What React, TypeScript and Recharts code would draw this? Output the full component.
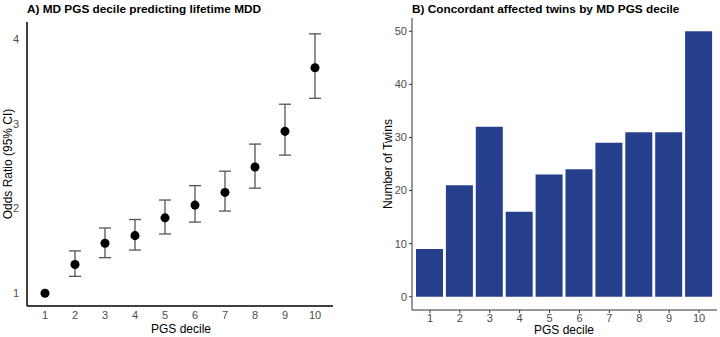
import React from "react";
import {
  ScatterChart,
  Scatter,
  ErrorBar,
  ZAxis,
  BarChart,
  Bar,
  XAxis,
  YAxis,
} from "recharts";

const deciles = [1, 2, 3, 4, 5, 6, 7, 8, 9, 10];
const oddsRatio = [1.0, 1.34, 1.59, 1.68, 1.89, 2.04, 2.19, 2.49, 2.91, 3.66];
const ciLower = [1.0, 1.2, 1.42, 1.51, 1.7, 1.84, 1.97, 2.24, 2.63, 3.3];
const ciUpper = [1.0, 1.5, 1.77, 1.87, 2.1, 2.27, 2.44, 2.76, 3.23, 4.06];
const twinCounts = [9, 21, 32, 16, 23, 24, 29, 31, 31, 50];

const orTicks = [1, 2, 3, 4];
const countTicks = [0, 10, 20, 30, 40, 50];

const font = "'Liberation Sans', Arial, sans-serif";

// reference decile has no interval
const orData = deciles.map((d, i) => ({
  decile: d,
  or: oddsRatio[i],
  err:
    ciUpper[i] > ciLower[i]
      ? [oddsRatio[i] - ciLower[i], ciUpper[i] - oddsRatio[i]]
      : null,
}));

const twinData = deciles.map((d, i) => ({ decile: d, n: twinCounts[i] }));

const tickStyle = { fontSize: 11, fill: "#4d4d4d", fontFamily: font };

function Title({ left, text }: { left: number; text: string }) {
  return (
    <div
      style={{
        position: "absolute",
        left,
        top: 2,
        fontFamily: font,
        fontWeight: 700,
        fontSize: 11.8,
        color: "#000",
        whiteSpace: "nowrap",
      }}
    >
      {text}
    </div>
  );
}

function AxisTitle({
  x,
  y,
  text,
  vertical,
}: {
  x: number;
  y: number;
  text: string;
  vertical?: boolean;
}) {
  return (
    <div
      style={{
        position: "absolute",
        left: x,
        top: y,
        transform: `translate(-50%, -50%)${vertical ? " rotate(-90deg)" : ""}`,
        fontFamily: font,
        fontSize: 12,
        color: "#000",
        whiteSpace: "nowrap",
        lineHeight: "14px",
      }}
    >
      {text}
    </div>
  );
}

export default function App() {
  return (
    <div
      style={{
        position: "absolute",
        left: 0,
        top: 0,
        width: 720,
        height: 337,
        background: "#fff",
        fontFamily: font,
      }}
    >
      <div style={{ position: "absolute", left: 0, top: 0 }}>
        <ScatterChart
          width={360}
          height={337}
          margin={{ top: 22, right: 27, left: 7, bottom: 0 }}
        >
          <XAxis
            type="number"
            dataKey="decile"
            domain={[0.4, 10.6]}
            ticks={deciles}
            interval={0}
            tick={tickStyle}
            tickLine={false}
            tickSize={4}
            tickMargin={1.5}
            axisLine={{ stroke: "#000", strokeWidth: 1.5 }}
            height={31}
          />
          <YAxis
            type="number"
            dataKey="or"
            domain={[0.85, 4.2]}
            ticks={orTicks}
            tick={tickStyle}
            tickLine={false}
            axisLine={{ stroke: "#000", strokeWidth: 1.5 }}
            width={20}
          />
          <ZAxis range={[50, 50]} />
          <Scatter
            data={orData}
            fill="#000"
            shape="circle"
            isAnimationActive={false}
          >
            <ErrorBar
              dataKey="err"
              direction="y"
              width={6}
              stroke="#555555"
              strokeWidth={1.3}
            />
          </Scatter>
        </ScatterChart>
      </div>

      <div style={{ position: "absolute", left: 360, top: 0 }}>
        <BarChart
          width={360}
          height={337}
          data={twinData}
          margin={{ top: 18, right: 3, left: 20, bottom: 0 }}
        >
          <XAxis
            type="number"
            dataKey="decile"
            domain={[0.4, 10.6]}
            ticks={deciles}
            interval={0}
            tick={tickStyle}
            tickLine={{ stroke: "#333" }}
            tickSize={3}
            tickMargin={1.5}
            axisLine={{ stroke: "#333", strokeWidth: 1 }}
            height={27}
          />
          <YAxis
            type="number"
            domain={[-2.5, 52.5]}
            ticks={countTicks}
            tick={tickStyle}
            tickLine={{ stroke: "#333" }}
            tickSize={3}
            axisLine={{ stroke: "#333", strokeWidth: 1 }}
            width={32}
          />
          <Bar
            dataKey="n"
            fill="#263f8c"
            barSize={27}
            isAnimationActive={false}
          />
        </BarChart>
      </div>

      <Title left={27} text="A) MD PGS decile predicting lifetime MDD" />
      <Title left={412} text="B) Concordant affected twins by MD PGS decile" />
      <AxisTitle x={181} y={329} text="PGS decile" />
      <AxisTitle x={8} y={164} text="Odds Ratio (95% CI)" vertical />
      <AxisTitle x={564} y={330} text="PGS decile" />
      <AxisTitle x={388} y={164} text="Number of Twins" vertical />
    </div>
  );
}
